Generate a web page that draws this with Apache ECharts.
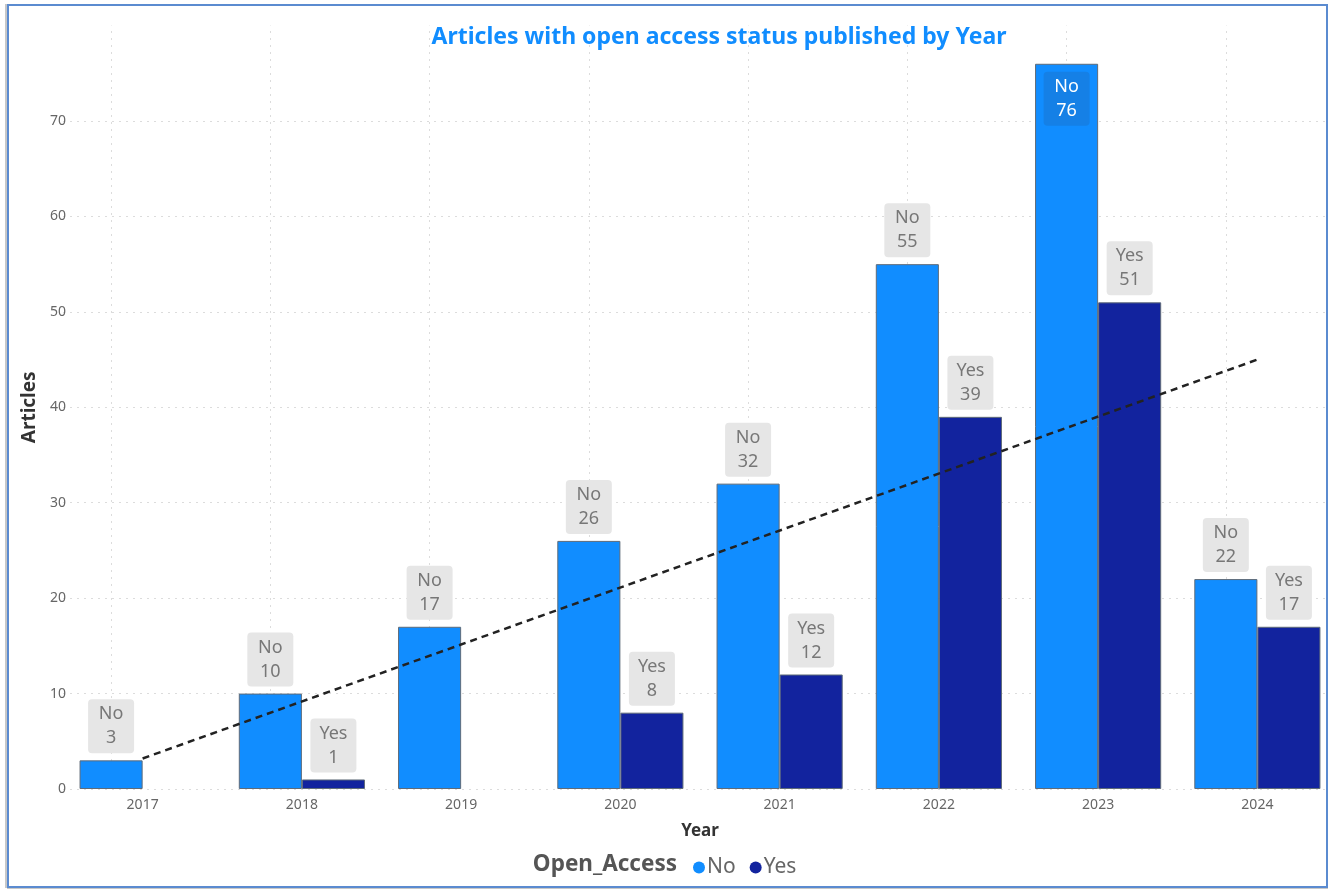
<!DOCTYPE html>
<html>
<head>
<meta charset="utf-8">
<script src="https://cdn.jsdelivr.net/npm/echarts@6/dist/echarts.min.js"></script>
<style>
html,body{margin:0;padding:0;background:#fff;overflow:hidden;width:1330px;height:889px;}
#chart{position:absolute;left:0;top:0;width:1345px;height:889px;}
#frame{position:absolute;left:7px;top:4px;width:1317px;height:880px;border:2px solid #5b8bd0;box-shadow:-2px 0 0 #c8c8c8, 0 2px 0 #c8c8c8;pointer-events:none;}
#cover{position:absolute;left:1328px;top:0;width:20px;height:889px;background:#fff;}
</style>
</head>
<body>
<div id="chart"></div>
<div id="cover"></div>
<div id="frame"></div>
<script>
const years = ['2017','2018','2019','2020','2021','2022','2023','2024'];
const noValues = [3, 10, 17, 26, 32, 55, 76, 22];
const yesValues = [null, 1, null, 8, 12, 39, 51, 17];
const trendValues = [3.2, null, null, null, null, null, null, 45];
const yTicks = [0, 10, 20, 30, 40, 50, 60, 70];

const FONT = '"Noto Sans", "Open Sans", sans-serif';
const labelBox = {
  show: true,
  position: 'top',
  distance: 7,
  backgroundColor: '#e6e6e6',
  borderRadius: 4,
  padding: [3, 9, 3, 9],
  width: 28,
  align: 'center',
  lineHeight: 24,
  fontSize: 18,
  fontFamily: FONT,
  color: '#777'
};

const chart = echarts.init(document.getElementById('chart'));
chart.setOption({
  animation: false,
  title: {
    text: 'Articles with open access status published by Year',
    left: 714,
    textAlign: 'center',
    top: 21,
    textStyle: { color: '#118DFF', fontSize: 23, fontWeight: 'bold', fontFamily: FONT }
  },
  legend: {
    left: 688,
    top: 852,
    icon: 'circle',
    itemWidth: 12,
    itemHeight: 12,
    itemGap: 14,
    data: ['No', 'Yes'],
    itemStyle: { borderWidth: 0 },
    textStyle: { fontSize: 21, color: '#666', fontFamily: FONT, padding: [0, 0, 0, -3] }
  },
  graphic: [{
    type: 'text',
    right: 1345 - 677,
    top: 853,
    style: { text: 'Open_Access', fill: '#555', font: 'bold 22.5px "Noto Sans", sans-serif' }
  }],
  grid: { left: 63, top: 25.6, width: 1274, height: 763.4, containLabel: false },
  xAxis: {
    type: 'category',
    data: years,
    name: 'Year',
    nameLocation: 'middle',
    nameGap: 34,
    nameTextStyle: { fontSize: 17, fontWeight: 'bold', color: '#333', fontFamily: FONT },
    axisLine: { show: false },
    axisTick: { show: false },
    axisLabel: { fontSize: 14, color: '#666', margin: 9, fontFamily: FONT },
    splitLine: { show: false }
  },
  yAxis: {
    type: 'value',
    min: 0,
    max: 80,
    interval: 10,
    name: 'Articles',
    nameLocation: 'middle',
    nameGap: 17,
    nameRotate: 90,
    nameTextStyle: { fontSize: 19, fontWeight: 'bold', color: '#333', fontFamily: FONT },
    axisLine: { show: false },
    axisTick: { show: false },
    axisLabel: {
      fontSize: 14, color: '#666', margin: -3, fontFamily: FONT,
      formatter: v => (yTicks.indexOf(v) >= 0 ? String(v) : '')
    },
    splitLine: {
      show: true,
      lineStyle: {
        color: ['#dcdcdc','#dcdcdc','#dcdcdc','#dcdcdc','#dcdcdc','#dcdcdc','#dcdcdc','#dcdcdc','rgba(0,0,0,0)'],
        type: [2, 5],
        width: 1
      }
    }
  },
  series: [
    {
      name: 'No',
      type: 'bar',
      data: noValues.map((v, i) => {
        if (v === Math.max(...noValues)) {
          return {
            value: v,
            label: {
              position: 'insideTop',
              distance: 8,
              backgroundColor: '#1580e6',
              color: '#fff'
            }
          };
        }
        return v;
      }),
      barGap: '0%',
      barCategoryGap: '20.8%',
      itemStyle: { color: '#118DFF', borderColor: '#5f6b78', borderWidth: 1 },
      label: Object.assign({}, labelBox, { formatter: p => 'No\n' + p.value }),
      markLine: {
        silent: true,
        symbol: 'none',
        label: { show: false },
        lineStyle: { color: '#dcdcdc', type: [2, 5], width: 1 },
        data: years.map(y => ({ xAxis: y })),
        z: 0
      },
      z: 2
    },
    {
      name: 'Yes',
      type: 'bar',
      data: yesValues,
      itemStyle: { color: '#12239E', borderColor: '#5f6b78', borderWidth: 1 },
      label: Object.assign({}, labelBox, { formatter: p => 'Yes\n' + p.value }),
      z: 2
    },
    {
      name: 'Trend',
      type: 'line',
      data: trendValues,
      connectNulls: true,
      symbol: 'none',
      silent: true,
      lineStyle: { color: '#222', width: 2.5, type: [7, 5] },
      z: 5
    }
  ]
});
</script>
</body>
</html>
